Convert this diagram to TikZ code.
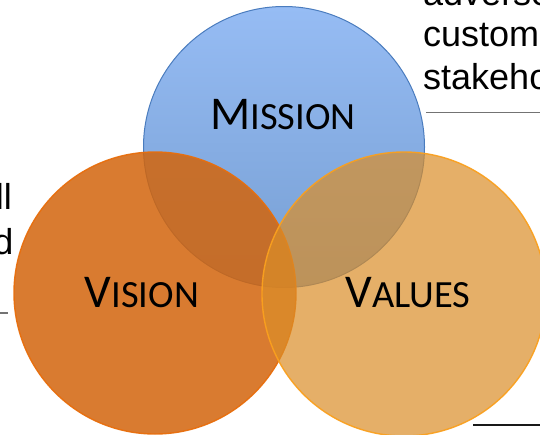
\documentclass[tikz,border=0pt]{standalone}
\usepackage{fontspec}
\setmainfont{Liberation Sans}
\newfontfamily\carl{Carlito}
\definecolor{missTop}{RGB}{150,188,244}
\definecolor{missBot}{RGB}{118,158,210}
\definecolor{missEdge}{RGB}{74,124,190}
\definecolor{visFill}{RGB}{211,101,12}
\definecolor{visEdge}{RGB}{232,110,12}
\definecolor{valFill}{RGB}{219,142,40}
\definecolor{valEdge}{RGB}{250,160,30}
\newcommand{\fakesc}[2]{{\carl\fontsize{47}{47}\selectfont #1\fontsize{38.5}{38.5}\selectfont #2}}
\tikzset{
  vcircle/.style={circle, inner sep=0pt, outer sep=0pt},
  label/.style={anchor=base, inner sep=0pt},
  side/.style={inner sep=0pt, font=\fontsize{36}{36}\selectfont},
  rule/.style={line width=1.3pt}
}
\begin{document}
\begin{tikzpicture}[x=1pt,y=-1pt]
\useasboundingbox (0,0) rectangle (540,434);
\fill[white] (0,0) rectangle (540,434);
% side texts (cut off by the frame)
\node[side, anchor=base west] (t1) at (423,5) {adverse};
\node[side, anchor=base west] (t2) at (423,46) {custom};
\node[side, anchor=base west] (t3) at (423,89) {stakeho};
\node[side, anchor=base east] (t4) at (12,209) {ll};
\node[side, anchor=base east] (t5) at (13.5,254) {d};
\coordinate (r1a) at (426,112.5); \coordinate (r1b) at (540,112.5);
\coordinate (r2a) at (0,313);     \coordinate (r2b) at (8,313);
\coordinate (r3a) at (473,425);   \coordinate (r3b) at (540,425);
\draw[rule, color=black!55] (r1a) -- (r1b);
\draw[rule, color=black!55] (r2a) -- (r2b);
\draw[rule, color=black!90] (r3a) -- (r3b);
% circles
\node[vcircle, minimum size=281pt, top color=missTop, bottom color=missBot,
      draw=missEdge, line width=1pt] (mission) at (284,147) {};
\node[vcircle, minimum size=282pt, fill=visFill, fill opacity=0.85,
      draw=visEdge, draw opacity=0.95, line width=1.4pt] (vision) at (155,293) {};
\node[vcircle, minimum size=284pt, fill=valFill, fill opacity=0.7,
      draw=valEdge, draw opacity=0.95, line width=1.4pt] (values) at (404,294) {};
% labels
\node[label] (lm) at (283,129) {\fakesc{M}{ISSION}};
\node[label] (lv) at (142,307) {\fakesc{V}{ISION}};
\node[label] (lva) at (408,307) {\fakesc{V}{ALUES}};
\end{tikzpicture}
\end{document}
